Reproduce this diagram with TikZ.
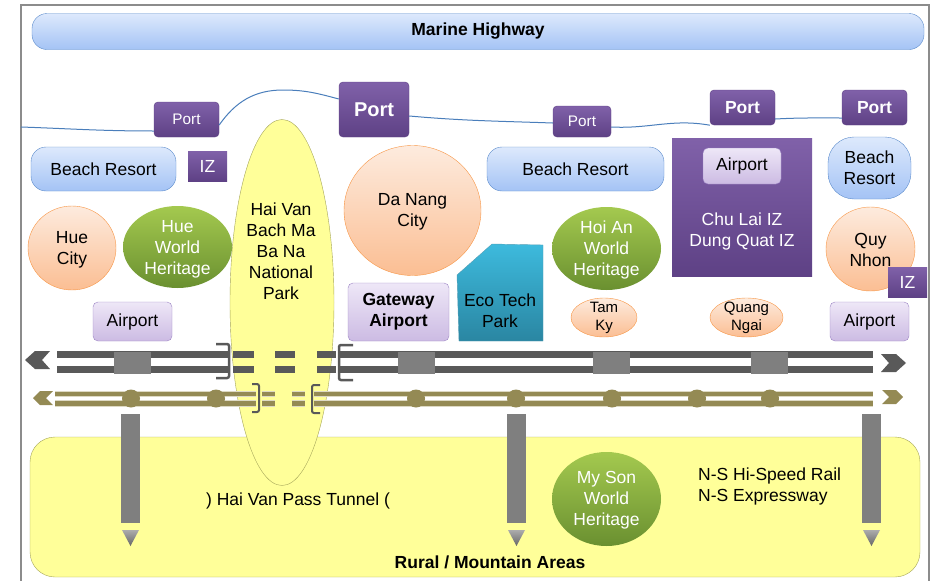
\documentclass[tikz,border=0pt]{standalone}
\usepackage{fontspec}
\setmainfont{Liberation Sans}
\usetikzlibrary{shapes.geometric}
\definecolor{skytop}{HTML}{DDE9FC}
\definecolor{skybot}{HTML}{A4C3F5}
\definecolor{skyline}{HTML}{5B8BCB}
\definecolor{sealine}{HTML}{4A7EBB}
\definecolor{porttop}{HTML}{8061A9}
\definecolor{portbot}{HTML}{5E4185}
\definecolor{apttop}{HTML}{EEE7F7}
\definecolor{aptbot}{HTML}{CCBBE3}
\definecolor{aptline}{HTML}{9C84C4}
\definecolor{citytop}{HTML}{FDEBDE}
\definecolor{citybot}{HTML}{FBBE93}
\definecolor{cityline}{HTML}{F79646}
\definecolor{herbtop}{HTML}{A4C94F}
\definecolor{herbbot}{HTML}{6A9030}
\definecolor{parkfill}{HTML}{FFFF99}
\definecolor{parkline}{HTML}{A5A55A}
\definecolor{techtop}{HTML}{3DBADD}
\definecolor{techbot}{HTML}{2A86A2}
\definecolor{xwaygray}{HTML}{595959}
\definecolor{stopgray}{HTML}{7F7F7F}
\definecolor{railolive}{HTML}{948A54}
\definecolor{railhalo}{HTML}{DDD9C3}
\definecolor{framegray}{HTML}{8C8C8C}
\tikzset{
	txt/.style={font=\fontsize{17.5}{21}\selectfont, align=center, inner sep=0pt},
	boldtxt/.style={txt, font=\fontsize{17.5}{21}\selectfont\bfseries},
	skybox/.style={txt, draw=skyline, top color=skytop, bottom color=skybot, rounded corners=15pt},
	portbox/.style={txt, text=white, draw=portbot, top color=porttop, bottom color=portbot, rounded corners=4pt},
	aptbox/.style={txt, draw=aptline, top color=apttop, bottom color=aptbot, rounded corners=5pt},
	izbox/.style={txt, text=white, top color=porttop, bottom color=portbot},
	city/.style={ellipse, inner sep=0pt, draw=cityline, top color=citytop, bottom color=citybot},
	heritage/.style={ellipse, inner sep=0pt, top color=herbtop, bottom color=herbbot},
	whitetxt/.style={txt, text=white},
	xway/.style={xwaygray, line width=7pt},
	rail/.style={railolive, line width=4.5pt, preaction={draw=railhalo, line width=6.5pt}},
	xbracket/.style={xwaygray, line width=2.5pt, rounded corners=2pt},
	rbracket/.style={xwaygray, line width=2pt, rounded corners=2pt},
	feeder/.style={fill=stopgray},
	feedtip/.style={top color=gray!65, bottom color=gray!120}
}

\begin{document}
\begin{tikzpicture}[x=1pt,y=-1pt]
	\useasboundingbox (0,0) rectangle (935,581);
	\draw[framegray, line width=2pt] (21,590) -- (21,5) -- (929,5) -- (929,590);
	\node[skybox, boldtxt, minimum width=892pt, minimum height=36pt] (hwy) at (478,31.5) {Marine Highway};

	% rural belt and the pass
	\node[txt, draw=parkline, fill=parkfill, rounded corners=25pt, minimum width=890pt, minimum height=140pt] (rural) at (475,507) {};
	\node[boldtxt] (ruraltxt) at (490,562) {Rural / Mountain Areas};
	\node[ellipse, draw=parkline, fill=parkfill, minimum width=104pt, minimum height=366pt] (haivan) at (282,302.5) {};
	\node[txt] (haivantxt) at (281,251) {Hai Van\\Bach Ma\\Ba Na\\National\\Park};
	\node[txt] (tunneltxt) at (298,501) {) Hai Van Pass Tunnel (};

	% ports
	\node[portbox, font=\fontsize{15.3}{18}\selectfont, minimum width=65pt, minimum height=35pt] (p1) at (186.5,119.5) {Port};
	\node[portbox, font=\fontsize{20}{24}\selectfont\bfseries, minimum width=70pt, minimum height=55pt] (p2) at (374,109.5) {Port};
	\node[portbox, font=\fontsize{15.3}{18}\selectfont, minimum width=58pt, minimum height=31pt] (p3) at (582,121.5) {Port};
	\node[portbox, boldtxt, text=white, minimum width=65pt, minimum height=35pt] (p4) at (742.5,107.5) {Port};
	\node[portbox, boldtxt, text=white, minimum width=65pt, minimum height=35pt] (p5) at (874.5,107.5) {Port};
	\coordinate (shore) at (21,127);
	\coordinate (crest) at (283,90);
	\draw[sealine, line width=1pt] (shore) to[out=-2,in=180] ([yshift=-11.5pt]p1.west);
	\draw[sealine, line width=1pt] ([yshift=-5.5pt]p1.east) to[out=55,in=180] (crest) to[out=0,in=165] ([yshift=10.5pt]p2.west);
	\draw[sealine, line width=1pt] ([yshift=-6.5pt]p2.east) to[out=-5,in=178] ([yshift=-1.5pt]p3.west);
	\draw[sealine, line width=1pt] ([yshift=-5.5pt]p3.east) to[out=-3,in=170] (p4.south west);
	\draw[sealine, line width=1pt] ([yshift=-11.5pt]p4.east) to[out=3,in=180] ([yshift=-10.5pt]p5.west);

	% coast row
	\node[skybox, minimum width=145pt, minimum height=44pt] (beach1) at (103.5,169) {Beach Resort};
	\node[izbox, minimum width=39pt, minimum height=30pt] (iz1) at (207.5,166) {IZ};
	\node[skybox, minimum width=177pt, minimum height=44pt] (beach2) at (575.5,169) {Beach Resort};
	\node[izbox, minimum width=140pt, minimum height=138pt] (chulai) at (742,207) {};
	\node[aptbox, minimum width=78pt, minimum height=36pt] (ap2) at (742,166) {Airport};
	\node[whitetxt] (chulaitxt) at (742,231) {Chu Lai IZ\\Dung Quat IZ};
	\node[skybox, rounded corners=26pt, minimum width=83pt, minimum height=62pt] (beach3) at (869.5,168) {Beach\\Resort};

	% cities and heritage
	\node[city, minimum width=88pt, minimum height=84pt] (hue) at (72,248) {};
	\node[txt] (huetxt) at (72,250) {Hue\\City};
	\node[heritage, minimum width=109pt, minimum height=82pt] (huewh) at (177.5,247) {};
	\node[whitetxt] (huewhtxt) at (177.5,249) {Hue\\World\\Heritage};
	\node[city, minimum width=137pt, minimum height=130pt] (danang) at (412.5,210.5) {};
	\node[txt] (danangtxt) at (412.5,212) {Da Nang\\City};
	\node[heritage, minimum width=109pt, minimum height=83pt] (hoian) at (606.5,248.5) {};
	\node[whitetxt] (hoiantxt) at (606.5,250) {Hoi An\\World\\Heritage};
	\node[city, minimum width=89pt, minimum height=84pt] (quynhon) at (870.5,249) {};
	\node[txt] (quynhontxt) at (870.5,250) {Quy\\Nhon};
	\node[izbox, minimum width=39pt, minimum height=30pt] (iz2) at (907.5,282) {IZ};
	\node[city, minimum width=66pt, minimum height=39pt] (tamky) at (604,317.5) {};
	\node[txt, font=\fontsize{15}{18}\selectfont] (tamkytxt) at (tamky) {Tam\\Ky};
	\node[city, minimum width=73pt, minimum height=39pt] (quangngai) at (746.5,317.5) {};
	\node[txt, font=\fontsize{15}{18}\selectfont] (quangngaitxt) at (quangngai) {Quang\\Ngai};
	\node[heritage, minimum width=109pt, minimum height=94pt] (myson) at (606.5,499) {};
	\node[whitetxt] (mysontxt) at (606.5,500) {My Son\\World\\Heritage};

	% airports and parks
	\node[aptbox, minimum width=79pt, minimum height=39pt] (ap1) at (132.5,321.5) {Airport};
	\node[aptbox, boldtxt, minimum width=101pt, minimum height=58pt] (gateway) at (398.5,312) {Gateway\\Airport};
	\shade[top color=techtop, bottom color=techbot, draw=techbot!80] (457,275) -- (492,244) -- (543,245) -- (543,341) -- (459,341) -- cycle;
	\node[txt] (ecotech) at (500,311) {Eco Tech\\Park};
	\node[aptbox, minimum width=79pt, minimum height=39pt] (ap3) at (869.5,321.5) {Airport};

	% expressway
	\draw[xway] (57,354.5) -- (229,354.5);
	\draw[xway] (57,369.5) -- (229,369.5);
	\draw[xway] (340,354.5) -- (873,354.5);
	\draw[xway] (340,369.5) -- (873,369.5);
	\draw[xway] (233,354.5) -- (254,354.5) (275,354.5) -- (295,354.5) (317,354.5) -- (336,354.5);
	\draw[xway] (233,369.5) -- (254,369.5) (275,369.5) -- (295,369.5) (317,369.5) -- (336,369.5);
	\draw[xbracket] (216,344) -- (229,344) -- (229,378) -- (216,378);
	\draw[xbracket] (353,345) -- (339,345) -- (339,380) -- (353,380);
	\fill[xwaygray] (25,360) -- (35,351) -- (50,351) -- (42,360) -- (50,369) -- (35,369) -- cycle;
	\fill[xwaygray] (906,363) -- (896,354) -- (881,354) -- (889,363) -- (881,372) -- (896,372) -- cycle;
	\fill[stopgray] (114,351.5) rectangle (151,373.5);
	\fill[stopgray] (398,351.5) rectangle (435,373.5);
	\fill[stopgray] (593,351.5) rectangle (630,373.5);
	\fill[stopgray] (751,351.5) rectangle (788,373.5);

	% hi-speed rail
	\draw[rail] (55,394) -- (256,394);
	\draw[rail] (55,403.5) -- (256,403.5);
	\draw[rail] (314,394) -- (873,394);
	\draw[rail] (314,403.5) -- (873,403.5);
	\draw[rail] (262,394) -- (275,394) (292,394) -- (305,394);
	\draw[rail] (262,403.5) -- (275,403.5) (292,403.5) -- (305,403.5);
	\draw[rbracket] (252,384) -- (259,384) -- (259,412) -- (252,412);
	\draw[rbracket] (320,385) -- (312,385) -- (312,413) -- (320,413);
	\fill[railolive] (33,398) -- (40,391) -- (53,391) -- (46,398) -- (53,405) -- (40,405) -- cycle;
	\fill[railolive] (903,397) -- (896,390) -- (882,390) -- (889,397) -- (882,404) -- (896,404) -- cycle;
	\fill[railolive] (131,398.5) circle [radius=9pt] (216,398.5) circle [radius=9pt] (416,398.5) circle [radius=9pt] (516,398.5) circle [radius=9pt] (612,398.5) circle [radius=9pt] (697,398.5) circle [radius=9pt] (770,398.5) circle [radius=9pt];

	% feeders into the hills
	\fill[feeder] (121,414) rectangle (140,523);
	\fill[feeder] (507,414) rectangle (526,523);
	\fill[feeder] (862,414) rectangle (881,523);
	\shade[feedtip] (122,530) -- (139,530) -- (130.5,546) -- cycle;
	\shade[feedtip] (508,530) -- (525,530) -- (516.5,546) -- cycle;
	\shade[feedtip] (863,530) -- (880,530) -- (871.5,546) -- cycle;

	\node[txt, anchor=west, align=left] (nstxt) at (698,486) {N-S Hi-Speed Rail\\N-S Expressway};
\end{tikzpicture}
\end{document}
